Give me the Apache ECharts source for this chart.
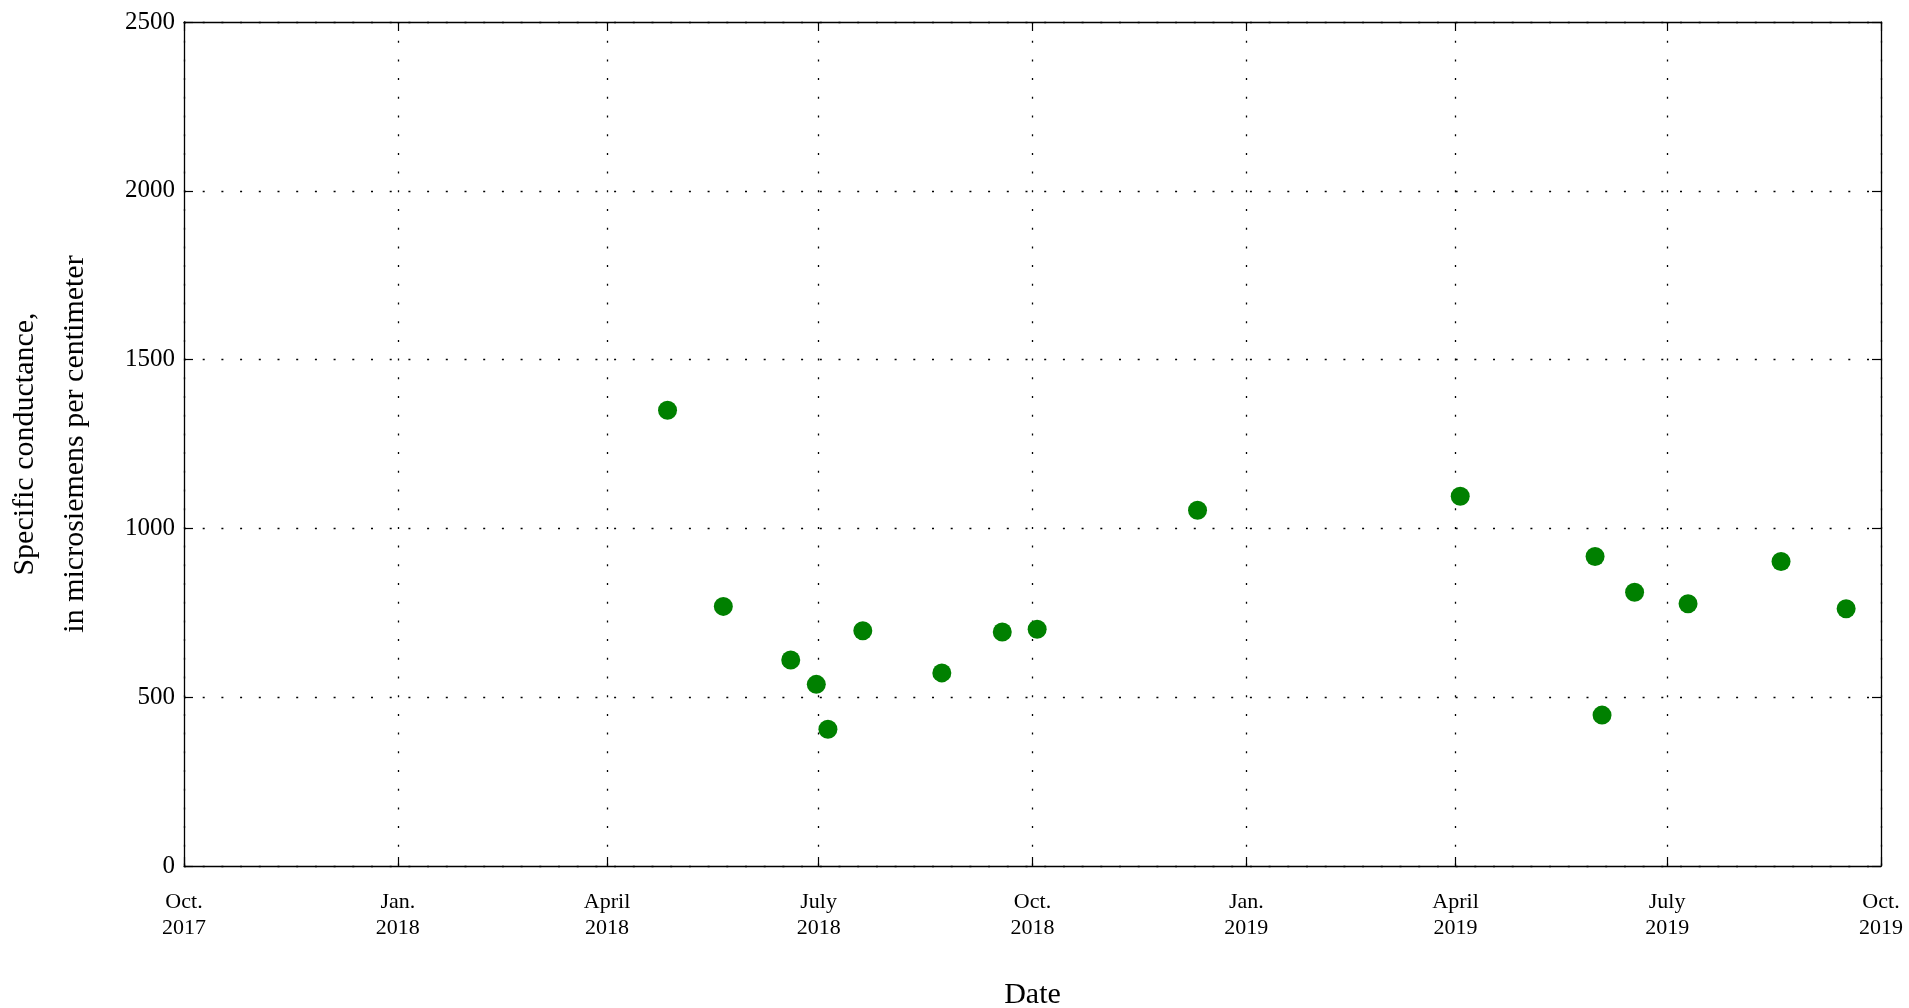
<!DOCTYPE html>
<html>
<head>
<meta charset="utf-8">
<style>
  html, body { margin: 0; padding: 0; background: #fff; }
  #chart { width: 1909px; height: 1008px; }
</style>
<script src="https://cdn.jsdelivr.net/npm/echarts@6/dist/echarts.min.js"></script>
</head>
<body>
<div id="chart"></div>
<script>
// ---- Data ----
const sampleDates = [
  '2018-04-27', '2018-05-21', '2018-06-19', '2018-06-30', '2018-07-05',
  '2018-07-20', '2018-08-23', '2018-09-18', '2018-10-03', '2018-12-11',
  '2019-04-03', '2019-05-31', '2019-06-03', '2019-06-17', '2019-07-10',
  '2019-08-19', '2019-09-16'
];
const conductance = [
  1350, 769, 610, 538, 405,
  697, 572, 693, 701, 1054,
  1095, 917, 447, 811, 777,
  902, 762
];
const xTickDates = [
  '2017-10-01', '2018-01-01', '2018-04-01', '2018-07-01', '2018-10-01',
  '2019-01-01', '2019-04-01', '2019-07-01', '2019-10-01'
];
const xTickLabels = [
  'Oct.\n2017', 'Jan.\n2018', 'April\n2018', 'July\n2018', 'Oct.\n2018',
  'Jan.\n2019', 'April\n2019', 'July\n2019', 'Oct.\n2019'
];
const yTicks = [0, 500, 1000, 1500, 2000, 2500];

// ---- Chart ----
const FONT = "'Liberation Serif', 'Times New Roman', serif";
const toTime = s => Date.parse(s + 'T00:00:00Z');
const tickTimes = xTickDates.map(toTime);
const labelFor = {};
tickTimes.forEach((t, i) => { labelFor[t] = xTickLabels[i]; });

const gridLine = { show: true, lineStyle: { color: '#000', width: 1.3, type: [2, 16.7] } };
const axisLine = { show: true, onZero: false, lineStyle: { color: '#000', width: 1.3 } };
const tick = { show: true, inside: true, length: 9, lineStyle: { color: '#000', width: 1.2 } };

const chart = echarts.init(document.getElementById('chart'), null, { renderer: 'canvas' });
chart.setOption({
  backgroundColor: '#fff',
  animation: false,
  grid: { left: 184, top: 22, width: 1697, height: 844, containLabel: false, outerBoundsMode: 'none' },
  xAxis: [{
    type: 'value',
    position: 'bottom',
    min: tickTimes[0],
    max: tickTimes[tickTimes.length - 1],
    name: 'Date',
    nameLocation: 'middle',
    nameGap: 114,
    nameTextStyle: { fontFamily: FONT, fontSize: 30, color: '#000' },
    axisLine: axisLine,
    axisTick: Object.assign({ customValues: tickTimes }, tick),
    splitLine: gridLine,
    axisLabel: {
      customValues: tickTimes,
      formatter: v => labelFor[v] || '',
      fontFamily: FONT, fontSize: 22, lineHeight: 26, color: '#000',
      margin: 23, hideOverlap: false
    }
  }, {
    type: 'value',
    position: 'top',
    min: tickTimes[0],
    max: tickTimes[tickTimes.length - 1],
    axisLine: axisLine,
    axisTick: Object.assign({ customValues: tickTimes }, tick),
    splitLine: { show: false },
    axisLabel: { show: false }
  }],
  yAxis: [{
    type: 'value',
    position: 'left',
    min: yTicks[0],
    max: yTicks[yTicks.length - 1],
    interval: 500,
    name: 'Specific conductance,\nin microsiemens per centimeter',
    nameLocation: 'middle',
    nameRotate: 90,
    nameGap: 84,
    nameTextStyle: { fontFamily: FONT, fontSize: 30, lineHeight: 50, color: '#000', align: 'center' },
    axisLine: axisLine,
    axisTick: tick,
    splitLine: gridLine,
    axisLabel: { fontFamily: FONT, fontSize: 25, color: '#000', margin: 9, formatter: v => String(v) }
  }, {
    type: 'value',
    position: 'right',
    min: yTicks[0],
    max: yTicks[yTicks.length - 1],
    interval: 500,
    axisLine: axisLine,
    axisTick: tick,
    splitLine: { show: false },
    axisLabel: { show: false }
  }],
  series: [{
    type: 'scatter',
    xAxisIndex: 0,
    yAxisIndex: 0,
    symbol: 'circle',
    symbolSize: 19,
    itemStyle: { color: '#008000', opacity: 1 },
    data: sampleDates.map((d, i) => [toTime(d), conductance[i]])
  }]
});
</script>
</body>
</html>
